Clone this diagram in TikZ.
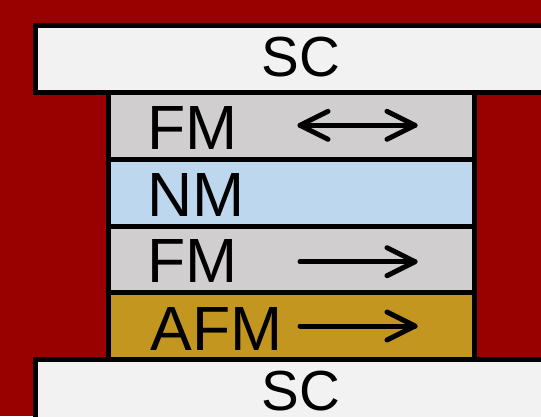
\documentclass[tikz,border=0pt]{standalone}
\usepackage{fontspec}
\setmainfont{Liberation Sans}
\definecolor{bgred}{HTML}{990000}
\definecolor{scfill}{HTML}{F2F2F2}
\definecolor{fmfill}{HTML}{D0CECE}
\definecolor{nmfill}{HTML}{BDD7EE}
\definecolor{afmfill}{HTML}{C3961F}
\tikzset{
  layer/.style={draw=black, line width=5pt},
  lbl/.style={inner sep=0pt, anchor=base west, font=\fontsize{62.5}{66}\selectfont},
  sclbl/.style={inner sep=0pt, anchor=base, font=\fontsize{56.5}{60}\selectfont},
  spin/.style={line width=5pt, line cap=round, line join=round}
}
\begin{document}
\begin{tikzpicture}[x=1pt, y=-1pt]
  % background
  \fill[bgred] (0,0) rectangle (541,416);
  \useasboundingbox (0,0) rectangle (541,416);

  % layer stack
  \draw[layer, fill=fmfill]  (108.5,92.5)  rectangle (474,159);
  \draw[layer, fill=nmfill]  (108.5,159)   rectangle (474,226);
  \draw[layer, fill=fmfill]  (108.5,226)   rectangle (474,292.5);
  \draw[layer, fill=afmfill] (108.5,292.5) rectangle (474,359.5);

  % superconducting electrodes
  \draw[layer, fill=scfill] (35.5,25.5)  rectangle (560,92.5);
  \draw[layer, fill=scfill] (35.5,359.5) rectangle (560,440);

  % labels
  \node[sclbl] (sctop) at (301,76) {SC};
  \node[sclbl] (scbot) at (301,410) {SC};
  \node[lbl] (fm1) at (147.5,149.7) {FM};
  \node[lbl] (nm)  at (147.5,216)   {NM};
  \node[lbl] (fm2) at (147.5,282.7) {FM};
  \node[lbl] (afm) at (150.5,350)   {AFM};

  % magnetization directions
  \draw[spin] (300,125.3) -- (415,125.3);
  \draw[spin] (328,111.3) -- (300,125.3) -- (328,139.3);
  \draw[spin] (387,111.3) -- (415,125.3) -- (387,139.3);

  \draw[spin] (300,261.7) -- (415,261.7);
  \draw[spin] (387,247.7) -- (415,261.7) -- (387,275.7);

  \draw[spin] (300,326) -- (415,326);
  \draw[spin] (387,312) -- (415,326) -- (387,340);
\end{tikzpicture}
\end{document}
